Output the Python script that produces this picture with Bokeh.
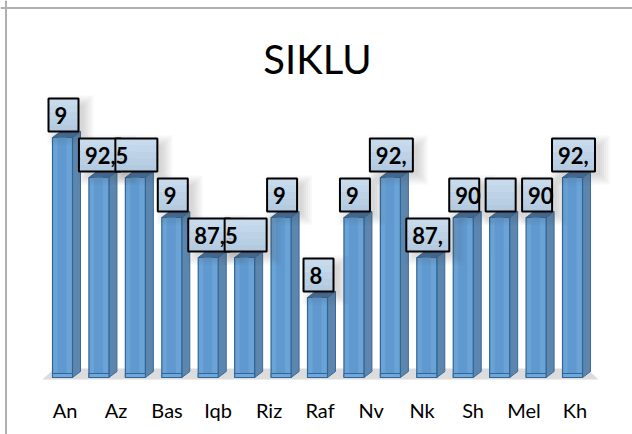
from bokeh.plotting import figure
from bokeh.models import FixedTicker, Range1d, Span
from bokeh.core.properties import value
from bokeh.embed import file_html
from bokeh.resources import INLINE

# --- data
tick_labels = ["An", "Az", "Bas", "Iqb", "Riz", "Raf", "Nv", "Nk", "Sh", "Mel", "Kh"]
values = [95, 92.5, 92.5, 90, 87.5, 87.5, 90, 85, 90, 92.5, 87.5, 90, 90, 90, 92.5]
data_labels = ["9", "92,5", "", "9", "87,5", "", "9", "8", "9", "92,", "87,", "90", "", "90", "92,"]
box_widths = [30, 42, 42, 30, 42, 42, 30, 30, 30, 43, 43, 30, 30, 30, 43]
title_text = "SIKLU"

# --- scales
W, H = 632, 434
STEP = 36.43          # px between bars
X0 = 62.0             # px of first bar's front centre
PXY = 16.0            # px per value unit
BASE = 80.0           # value at the floor
YB = 377.0            # px of the floor
x_at = lambda px: (px - X0) / STEP
y_at = lambda py: BASE + (YB - py) / PXY
dx = 1 / STEP         # one px in x units
dy = 1 / PXY          # one px in y units

p = figure(width=W, height=H, output_backend="svg", toolbar_location=None,
           x_range=Range1d(x_at(0), x_at(W)), y_range=Range1d(y_at(H), y_at(0)),
           min_border=0, outline_line_color=None, background_fill_color="white",
           border_fill_color="white")
p.grid.visible = False
p.yaxis.visible = False

ax = p.xaxis[0]
ticks = [0.07 + 1.4 * i for i in range(len(tick_labels))]
ax.ticker = FixedTicker(ticks=ticks)
ax.major_label_overrides = {t: s for t, s in zip(ticks, tick_labels)}
ax.fixed_location = y_at(391)
ax.axis_line_color = None
ax.major_tick_line_color = None
ax.minor_tick_line_color = None
ax.major_label_standoff = 0
ax.major_label_text_font = "Lato"
ax.major_label_text_font_size = "20px"
ax.major_label_text_color = "#000000"

# chart frame
p.add_layout(Span(location=y_at(7.5), dimension="width", line_color="#b0b0b0", line_width=2))
p.add_layout(Span(location=x_at(5.5), dimension="height", line_color="#b0b0b0", line_width=2))

# title
p.text([x_at(317)], [y_at(58)], text=[title_text], text_font=value("Lato"),
       text_font_size="40px", text_align="center", text_baseline="middle", text_color="#000000")

# floor
p.patch([x_at(42), x_at(598), x_at(586), x_at(54)], [y_at(379), y_at(379), y_at(368), y_at(368)],
        fill_color="#dcdcdc", line_color=None)

HW = 10.0   # half front width, px
OX, OY = 8.0, 6.0  # depth offset, px
for i, v in enumerate(values):
    l, r = i - HW * dx, i + HW * dx
    ox, oy = OX * dx, OY * dy
    # side
    p.patch([r, r + ox, r + ox, r], [BASE, BASE + oy, v + oy, v],
            fill_color="#5c86ad", line_color="#3a6a99", line_width=1)
    # top
    p.patch([l, l + ox, r + ox, r], [v, v + oy, v + oy, v],
            fill_color="#44719c", line_color="#3a6a99", line_width=1)
    # front
    p.patch([l, r, r, l], [BASE, BASE, v, v], fill_color="#6ba3d6",
            line_color="#2f6597", line_width=1.2)
    p.patch([l + 5 * dx, r - 6 * dx, r - 6 * dx, l + 5 * dx], [BASE, BASE, v, v],
            fill_color="#5f99d0", line_color=None)
    p.patch([l, r, r, l], [BASE + 4 * dy, BASE + 4 * dy, BASE, BASE], fill_color="#72a8d9",
            line_color="#2f6597", line_width=1)

BOX_H = 33.0
cs = [i + (11 - 10) * dx for i in range(len(values))]

def box(i, off_x=0.0, off_y=0.0, grow=0.0, bottom=0.0, top=1.0, **kw):
    w = box_widths[i] * dx
    c = cs[i] + off_x * dx
    b0 = values[i] + OY * dy - off_y * dy
    b = b0 - grow * dy + bottom * BOX_H * dy
    t = b0 + grow * dy + (top - 1) * BOX_H * dy + BOX_H * dy
    g = grow * dx
    p.patch([c - w / 2 - g, c + w / 2 + g, c + w / 2 + g, c - w / 2 - g], [b, b, t, t], **kw)

# soft shadows, one box after another so they fall on what is drawn before
for i in range(len(values)):
    for grow in (8, 6, 4, 2, 0, -2):
        box(i, 7, 5, grow, fill_color="#444444", fill_alpha=0.04, line_color=None)
    # box face, lighter at its top
    shades = ["#b3cae0", "#b8cee3", "#bdd2e6", "#c2d7ea", "#c7dbed"]
    for k, c in enumerate(shades):
        box(i, bottom=k / 5, top=(k + 1) / 5, fill_color=c, line_color=None)
    box(i, fill_alpha=0, line_color="#000000", line_width=2)

# labels
for i, s in enumerate(data_labels):
    if s:
        left = cs[i] - box_widths[i] * dx / 2
        p.text([left], [values[i] + (OY + BOX_H / 2) * dy], text=[s], x_offset=[6],
               text_font=value("Lato"), text_font_style="bold", text_font_size="22px",
               text_align="left", text_baseline="middle", text_color="#000000")

open("out.html", "w").write(file_html(p, INLINE))
